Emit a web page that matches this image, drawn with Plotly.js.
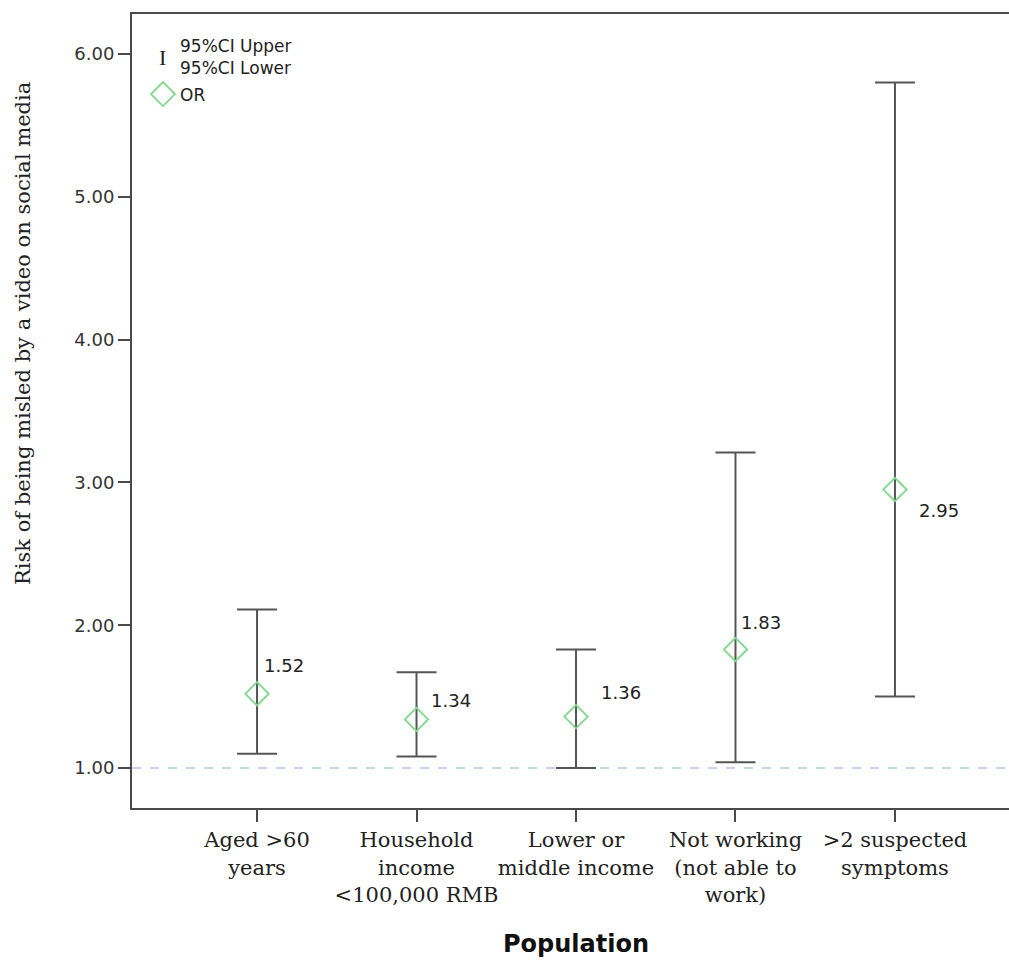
<!DOCTYPE html>
<html>
<head>
<meta charset="utf-8">
<script src="https://cdn.plot.ly/plotly-3.0.1.min.js"></script>
<style>
html, body { margin: 0; padding: 0; overflow: hidden; background: #fff; }
#chart { width: 1020px; height: 961px; }
</style>
</head>
<body>
<div id="chart"></div>
<script>
// ---- data ----
var categories = [
  "Aged >60<br>years",
  "Household<br>income<br><100,000 RMB",
  "Lower or<br>middle income",
  "Not working<br>(not able to<br>work)",
  ">2 suspected<br>symptoms"
];
var orValues = [1.52, 1.34, 1.36, 1.83, 2.95];
var ciUpper = [2.11, 1.67, 1.83, 3.21, 5.80];
var ciLower = [1.10, 1.08, 1.00, 1.04, 1.50];
var yTickValues = [1, 2, 3, 4, 5, 6];
var referenceValue = 1.00;

// ---- styling (label offsets in px relative to each marker) ----
var labelShiftX = [27, 34, 45, 26, 44];
var labelShiftY = [28, 19, 24, 27, -21];

var errPlus = orValues.map(function (v, i) { return ciUpper[i] - v; });
var errMinus = orValues.map(function (v, i) { return v - ciLower[i]; });

var sans = "DejaVu Sans";
var serif = "DejaVu Serif";
var axisColor = "#4a4a4a";
var green = "#7fd98a";

var traceCI = {
  type: "scatter",
  mode: "markers",
  x: categories,
  y: orValues,
  marker: { size: 1, opacity: 0 },
  error_y: {
    type: "data",
    symmetric: false,
    array: errPlus,
    arrayminus: errMinus,
    color: "#555555",
    thickness: 2,
    width: 20
  },
  hoverinfo: "skip",
  showlegend: false
};

var traceOR = {
  type: "scatter",
  mode: "markers",
  x: categories,
  y: orValues,
  name: "OR",
  marker: {
    symbol: "diamond-open",
    size: 18,
    color: green,
    line: { color: green, width: 1.8 }
  },
  showlegend: false
};

var annotations = orValues.map(function (v, i) {
  return {
    x: categories[i],
    y: v,
    xref: "x",
    yref: "y",
    text: v.toFixed(2),
    showarrow: false,
    xanchor: "center",
    yanchor: "middle",
    xshift: labelShiftX[i],
    yshift: labelShiftY[i],
    font: { family: sans, size: 18, color: "#222" }
  };
});

// manual legend
annotations.push({
  xref: "paper", yref: "paper", x: 0.0349, y: 0.9458,
  text: "I", showarrow: false, xanchor: "center", yanchor: "middle",
  font: { family: "Liberation Serif", size: 22, color: "#222" }
});
annotations.push({
  xref: "paper", yref: "paper", x: 0.0518, y: 0.9458,
  text: "95%CI Upper<br>95%CI Lower", showarrow: false, xanchor: "left", yanchor: "middle", align: "left",
  font: { family: sans, size: 17, color: "#222" }
});
annotations.push({
  xref: "paper", yref: "paper", x: 0.0518, y: 0.898,
  text: "OR", showarrow: false, xanchor: "left", yanchor: "middle", align: "left",
  font: { family: sans, size: 17, color: "#222" }
});
// axis titles
annotations.push({
  xref: "paper", yref: "paper", x: -0.1227, y: 0.597,
  text: "Risk of being misled by a video on social media", showarrow: false,
  textangle: -90, xanchor: "center", yanchor: "middle",
  font: { family: serif, size: 21, color: "#222" }
});
annotations.push({
  xref: "paper", yref: "paper", x: 0.5, y: -0.1713,
  text: "<b>Population</b>", showarrow: false, xanchor: "center", yanchor: "middle",
  font: { family: sans, size: 24, color: "#111" }
});

var dx = 12 / 888, dy = 12 / 794, cx = 0.0349, cy = 0.8992;
var shapes = [
  {
    type: "line", xref: "paper", yref: "y",
    x0: 0, x1: 1, y0: referenceValue, y1: referenceValue,
    line: { color: "#a9c9ec", width: 1.5, dash: "dash" },
    layer: "below"
  },
  {
    type: "path", xref: "paper", yref: "paper",
    path: "M " + (cx - dx) + " " + cy + " L " + cx + " " + (cy + dy) +
          " L " + (cx + dx) + " " + cy + " L " + cx + " " + (cy - dy) + " Z",
    line: { color: green, width: 1.8 }
  }
];

var layout = {
  width: 1020,
  height: 961,
  margin: { l: 132, r: 0, t: 14, b: 153 },
  paper_bgcolor: "#ffffff",
  plot_bgcolor: "#ffffff",
  showlegend: false,
  xaxis: {
    type: "category",
    range: [-0.784, 4.784],
    showgrid: false,
    zeroline: false,
    showline: true,
    mirror: true,
    linecolor: axisColor,
    linewidth: 2,
    ticks: "outside",
    ticklen: 12,
    tickwidth: 2,
    tickcolor: axisColor,
    tickangle: 0,
    automargin: false,
    tickfont: { family: serif, size: 21, color: "#222" }
  },
  yaxis: {
    range: [0.72, 6.28],
    tickvals: yTickValues,
    tickformat: ".2f",
    showgrid: false,
    zeroline: false,
    showline: true,
    mirror: true,
    linecolor: axisColor,
    linewidth: 2,
    ticks: "outside",
    ticklen: 12,
    tickwidth: 2,
    tickcolor: axisColor,
    tickfont: { family: sans, size: 18, color: "#333" }
  },
  annotations: annotations,
  shapes: shapes
};

Plotly.newPlot("chart", [traceCI, traceOR], layout, { staticPlot: true, displayModeBar: false });
</script>
</body>
</html>
